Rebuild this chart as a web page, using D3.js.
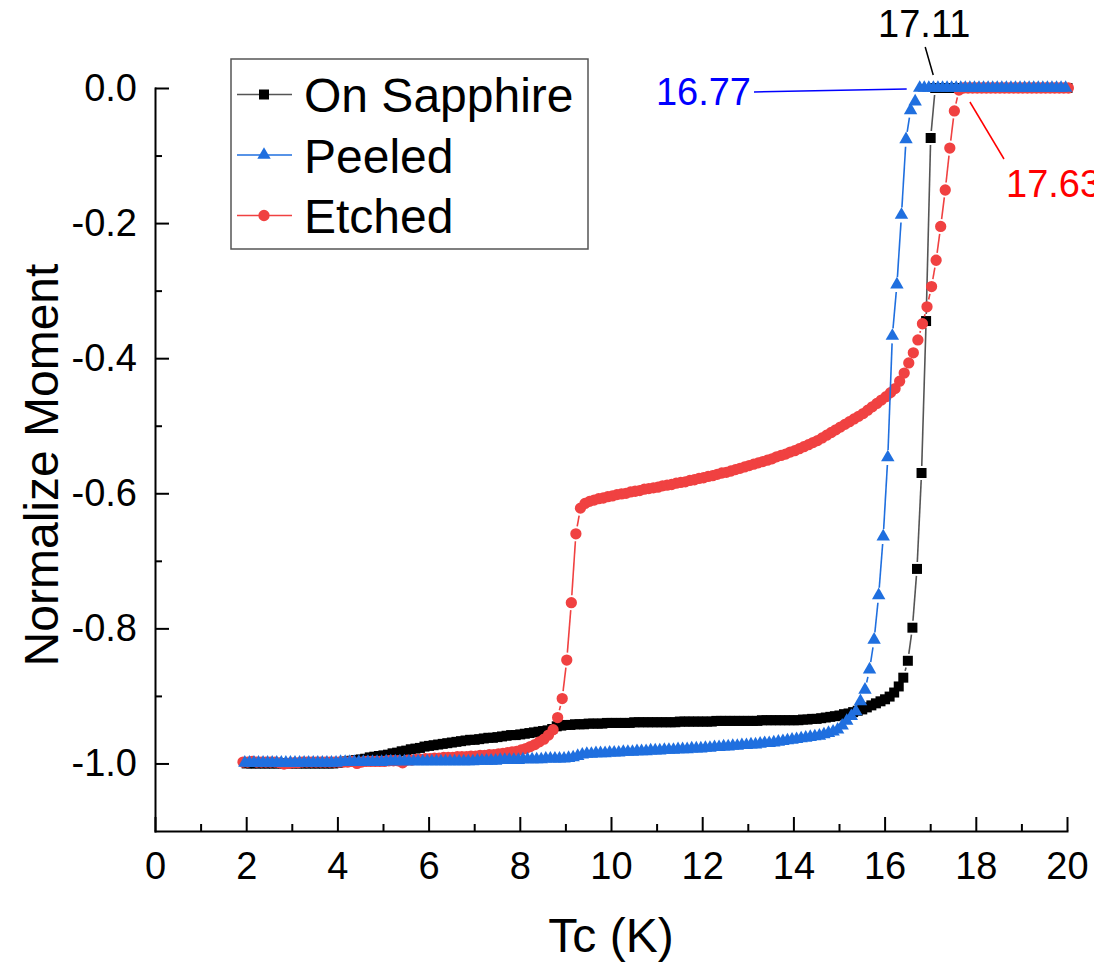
<!DOCTYPE html>
<html>
<head>
<meta charset="utf-8">
<script src="https://cdn.jsdelivr.net/npm/d3@7"></script>
<style>
  html, body { margin: 0; padding: 0; background: #fff; }
  svg { display: block; font-family: "Liberation Sans", Arial, Helvetica, sans-serif; }
</style>
</head>
<body>
<svg id="chart" width="1094" height="965"></svg>
<script>
// ---- Data: normalized magnetic moment during temperature sweeps (0.1 K per reading) ----
const seriesNames = ["On Sapphire", "Peeled", "Etched"];
const sweepStepK = 0.1;
const sweepStartK = [2.01, 1.97, 1.93];

// On Sapphire, readings from 2.01 K
const sapphireMoment = [
  -1.000,-1.000,-1.000,-1.000,-1.000,-1.000,-1.000,-1.000,-1.000,-1.000,
  -1.000,-1.000,-1.000,-1.000,-1.000,-1.000,-1.000,-1.000,-1.000,-1.000,
  -0.999,-0.998,-0.997,-0.996,-0.995,-0.994,-0.993,-0.991,-0.990,-0.989,
  -0.988,-0.987,-0.985,-0.984,-0.982,-0.981,-0.979,-0.978,-0.977,-0.975,
  -0.974,-0.973,-0.972,-0.971,-0.970,-0.969,-0.968,-0.967,-0.966,-0.965,
  -0.965,-0.964,-0.963,-0.962,-0.962,-0.961,-0.960,-0.959,-0.958,-0.958,
  -0.957,-0.956,-0.955,-0.954,-0.953,-0.952,-0.951,-0.949,-0.945,-0.944,
  -0.943,-0.943,-0.942,-0.942,-0.942,-0.941,-0.941,-0.941,-0.941,-0.940,
  -0.940,-0.940,-0.940,-0.940,-0.940,-0.939,-0.939,-0.939,-0.939,-0.939,
  -0.939,-0.939,-0.939,-0.939,-0.939,-0.938,-0.938,-0.938,-0.938,-0.938,
  -0.938,-0.938,-0.938,-0.937,-0.937,-0.937,-0.937,-0.937,-0.937,-0.937,
  -0.937,-0.937,-0.937,-0.936,-0.936,-0.936,-0.936,-0.936,-0.936,-0.936,
  -0.936,-0.936,-0.935,-0.935,-0.934,-0.934,-0.933,-0.932,-0.931,-0.930,
  -0.929,-0.927,-0.926,-0.924,-0.922,-0.920,-0.917,-0.914,-0.911,-0.908,
  -0.905,-0.901,-0.895,-0.886,-0.873,-0.848,-0.799,-0.712,-0.570,-0.345,
  -0.074, 0.000, 0.000, 0.000, 0.000, 0.000, 0.000, 0.000, 0.000, 0.000,
   0.000, 0.000, 0.000, 0.000, 0.000, 0.000, 0.000, 0.000, 0.000, 0.000,
   0.000, 0.000, 0.000, 0.000, 0.000, 0.000, 0.000, 0.000, 0.000, 0.000,
   0.000
];

// Peeled, readings from 1.97 K
const peeledMoment = [
  -0.999,-0.999,-0.999,-0.999,-0.999,-0.999,-0.999,-0.999,-0.999,-0.999,
  -0.999,-0.999,-0.999,-0.999,-0.999,-0.999,-0.999,-0.999,-0.999,-0.999,
  -0.999,-0.998,-0.998,-0.998,-0.998,-0.998,-0.998,-0.998,-0.998,-0.998,
  -0.998,-0.997,-0.997,-0.997,-0.997,-0.997,-0.997,-0.997,-0.997,-0.997,
  -0.997,-0.997,-0.997,-0.997,-0.997,-0.997,-0.997,-0.997,-0.997,-0.997,
  -0.997,-0.996,-0.996,-0.996,-0.996,-0.996,-0.995,-0.995,-0.995,-0.995,
  -0.995,-0.994,-0.994,-0.994,-0.994,-0.994,-0.993,-0.993,-0.993,-0.993,
  -0.993,-0.992,-0.991,-0.989,-0.987,-0.986,-0.986,-0.985,-0.985,-0.985,
  -0.984,-0.984,-0.984,-0.983,-0.983,-0.983,-0.982,-0.982,-0.982,-0.981,
  -0.981,-0.981,-0.980,-0.980,-0.980,-0.979,-0.979,-0.979,-0.978,-0.978,
  -0.978,-0.977,-0.977,-0.976,-0.976,-0.975,-0.975,-0.974,-0.974,-0.973,
  -0.973,-0.972,-0.972,-0.971,-0.970,-0.970,-0.969,-0.968,-0.967,-0.966,
  -0.965,-0.964,-0.963,-0.962,-0.961,-0.960,-0.959,-0.957,-0.955,-0.953,
  -0.950,-0.944,-0.937,-0.930,-0.923,-0.908,-0.891,-0.861,-0.817,-0.751,
  -0.664,-0.547,-0.367,-0.291,-0.188,-0.076,-0.033,-0.020, 0.000, 0.000,
   0.000, 0.000, 0.000, 0.000, 0.000, 0.000, 0.000, 0.000, 0.000, 0.000,
   0.000, 0.000, 0.000, 0.000, 0.000, 0.000, 0.000, 0.000, 0.000, 0.000,
   0.000, 0.000, 0.000, 0.000, 0.000, 0.000, 0.000, 0.000, 0.000, 0.000,
   0.000
];

// Etched, readings from 1.93 K
const etchedMoment = [
  -0.998,-0.998,-0.997,-0.998,-0.998,-0.998,-0.998,-0.998,-0.999,-1.001,
  -1.000,-0.999,-0.999,-0.998,-0.998,-0.998,-0.998,-0.998,-0.998,-0.998,
  -0.998,-0.998,-0.998,-0.998,-0.997,-1.000,-0.998,-0.997,-0.997,-0.997,
  -0.997,-0.997,-0.996,-0.996,-0.996,-0.999,-0.995,-0.995,-0.994,-0.994,
  -0.993,-0.993,-0.992,-0.992,-0.991,-0.991,-0.991,-0.990,-0.990,-0.990,
  -0.989,-0.989,-0.988,-0.988,-0.987,-0.987,-0.986,-0.985,-0.984,-0.983,
  -0.982,-0.980,-0.978,-0.975,-0.972,-0.968,-0.964,-0.958,-0.950,-0.932,
  -0.904,-0.847,-0.762,-0.660,-0.622,-0.615,-0.612,-0.610,-0.608,-0.607,
  -0.605,-0.604,-0.602,-0.601,-0.600,-0.598,-0.597,-0.596,-0.594,-0.593,
  -0.592,-0.591,-0.589,-0.588,-0.587,-0.585,-0.584,-0.583,-0.581,-0.580,
  -0.578,-0.577,-0.575,-0.574,-0.572,-0.570,-0.569,-0.567,-0.565,-0.563,
  -0.561,-0.559,-0.557,-0.555,-0.553,-0.551,-0.549,-0.546,-0.544,-0.542,
  -0.539,-0.537,-0.534,-0.531,-0.528,-0.525,-0.522,-0.518,-0.514,-0.510,
  -0.506,-0.502,-0.498,-0.494,-0.490,-0.486,-0.482,-0.477,-0.472,-0.467,
  -0.462,-0.457,-0.451,-0.445,-0.434,-0.422,-0.407,-0.392,-0.373,-0.349,
  -0.324,-0.294,-0.255,-0.205,-0.151,-0.089,-0.034,-0.003, 0.000, 0.000,
   0.000, 0.000, 0.000, 0.000, 0.000, 0.000, 0.000, 0.000, 0.000, 0.000,
   0.000, 0.000, 0.000, 0.000, 0.000, 0.000, 0.000, 0.000, 0.000, 0.000,
   0.000, 0.000
];

// Onset temperatures (first reading at zero moment) and their labels
const onsetK = [17.11, 16.77, 17.63];
const onsetLabels = ["17.11", "16.77", "17.63"];

// Axis ticks
const xMajorTicks = [0, 2, 4, 6, 8, 10, 12, 14, 16, 18, 20];
const xMinorTicks = [1, 3, 5, 7, 9, 11, 13, 15, 17, 19];
const yMajorTicks = [0.0, -0.2, -0.4, -0.6, -0.8, -1.0];
const yMinorTicks = [-0.1, -0.3, -0.5, -0.7, -0.9];
const xTitle = "Tc (K)";
const yTitle = "Normalize Moment";

// ---- Styling ----
const styles = [
  { marker: d3.symbolSquare,   size: 100, fill: "#000000", line: "#555555", gap: 7,   text: "#000000" },
  { marker: d3.symbolTriangle, size: 78,  fill: "#1f6fdf", line: "#1f6fdf", gap: 7.5, text: "#0000ff" },
  { marker: d3.symbolCircle,   size: 100, fill: "#f04141", line: "#f04141", gap: 7.5, text: "#ff0000" }
];
const moments = [sapphireMoment, peeledMoment, etchedMoment];
const series = seriesNames.map((name, s) => ({
  name,
  style: styles[s],
  points: moments[s].map((m, i) => ({ t: +(sweepStartK[s] + i * sweepStepK).toFixed(2), m }))
}));

const svg = d3.select("#chart");
const x = d3.scaleLinear().domain([0, 20]).range([155, 1067]);
const y = d3.scaleLinear().domain([-1.1, 0]).range([831, 88]);

const tickFont = 38;

// ---- Axes (ticks point inward) ----
function styleAxis(g) {
  g.selectAll("path.domain").attr("stroke", "#000").attr("stroke-width", 2).attr("stroke-linecap", "square");
  g.selectAll(".tick line").attr("stroke", "#000").attr("stroke-width", 2);
  g.selectAll(".tick text").attr("fill", "#000").style("font-size", tickFont + "px")
    .style("font-family", '"Liberation Sans", Arial, sans-serif');
}

svg.append("g").attr("transform", "translate(0,831)")
  .call(d3.axisBottom(x).tickValues(xMinorTicks).tickSize(-7).tickSizeOuter(0).tickFormat(""))
  .call(g => g.select("path.domain").remove())
  .call(styleAxis);
svg.append("g").attr("transform", "translate(0,831)")
  .call(d3.axisBottom(x).tickValues(xMajorTicks).tickSize(-14).tickSizeOuter(0).tickPadding(21).tickFormat(d => String(d)))
  .call(styleAxis);

svg.append("g").attr("transform", "translate(155,0)")
  .call(d3.axisLeft(y).tickValues(yMinorTicks).tickSize(-7).tickSizeOuter(0).tickFormat(""))
  .call(g => g.select("path.domain").remove())
  .call(styleAxis);
svg.append("g").attr("transform", "translate(155,0)")
  .call(d3.axisLeft(y).tickValues(yMajorTicks).tickSize(-14).tickSizeOuter(0).tickPadding(18).tickFormat(d => d.toFixed(1)))
  .call(styleAxis);

// Axis titles
svg.append("text").attr("x", 611).attr("y", 952).attr("text-anchor", "middle")
  .style("font-size", "48px").attr("fill", "#000").text(xTitle);
svg.append("text").attr("transform", "translate(58,465) rotate(-90)").attr("text-anchor", "middle")
  .style("font-size", "48px").attr("fill", "#000").text(yTitle);

// ---- Series: connecting segments stop short of each symbol ----
function gappedSegments(pts, gap) {
  const segs = [];
  for (let i = 1; i < pts.length; i++) {
    const x0 = x(pts[i - 1].t), y0 = y(pts[i - 1].m), x1 = x(pts[i].t), y1 = y(pts[i].m);
    const dx = x1 - x0, dy = y1 - y0, L = Math.hypot(dx, dy);
    if (L <= 2 * gap + 1) continue;
    const ux = dx / L, uy = dy / L;
    segs.push([x0 + ux * gap, y0 + uy * gap, x1 - ux * gap, y1 - uy * gap]);
  }
  return segs;
}

// Draw order: On Sapphire, Etched, Peeled (Peeled on top)
const drawOrder = [0, 2, 1];
const plot = svg.append("g");
drawOrder.forEach(s => {
  const sr = series[s];
  const g = plot.append("g");
  g.selectAll("line").data(gappedSegments(sr.points, sr.style.gap)).join("line")
    .attr("x1", d => d[0]).attr("y1", d => d[1]).attr("x2", d => d[2]).attr("y2", d => d[3])
    .attr("stroke", sr.style.line).attr("stroke-width", 1.6);
  const sym = d3.symbol().type(sr.style.marker).size(sr.style.size);
  g.selectAll("path").data(sr.points).join("path")
    .attr("transform", d => `translate(${x(d.t)},${y(d.m)})`)
    .attr("d", sym).attr("fill", sr.style.fill);
});

// ---- Onset annotations ----
const ann = svg.append("g").style("font-size", "38px");
// On Sapphire: label above, leader down to the onset point
ann.append("line").attr("x1", x(onsetK[0]) - 10).attr("y1", 47).attr("x2", x(onsetK[0]) - 2).attr("y2", y(0) - 13)
  .attr("stroke", styles[0].text).attr("stroke-width", 1.5);
ann.append("text").attr("x", x(onsetK[0]) - 11).attr("y", 37).attr("text-anchor", "middle")
  .attr("fill", styles[0].text).text(onsetLabels[0]);
// Peeled: label to the left, horizontal leader
ann.append("line").attr("x1", 754).attr("y1", 92).attr("x2", x(onsetK[1]) - 13).attr("y2", y(0) + 1)
  .attr("stroke", styles[1].text).attr("stroke-width", 1.5);
ann.append("text").attr("x", 751).attr("y", 105).attr("text-anchor", "end")
  .attr("fill", styles[1].text).text(onsetLabels[1]);
// Etched: label below right, diagonal leader
ann.append("line").attr("x1", x(onsetK[2]) + 11).attr("y1", y(0) + 14).attr("x2", 1004).attr("y2", 159)
  .attr("stroke", styles[2].text).attr("stroke-width", 1.5);
ann.append("text").attr("x", 1006).attr("y", 197).attr("text-anchor", "start")
  .attr("fill", styles[2].text).text(onsetLabels[2]);

// ---- Legend ----
const legend = svg.append("g");
legend.append("rect").attr("x", 231).attr("y", 59).attr("width", 357).attr("height", 190)
  .attr("fill", "#fff").attr("stroke", "#555").attr("stroke-width", 1.5);
series.forEach((sr, i) => {
  const cy = 94.5 + i * 60.5;
  legend.append("line").attr("x1", 237).attr("x2", 292).attr("y1", cy).attr("y2", cy)
    .attr("stroke", sr.style.line).attr("stroke-width", 1.6);
  legend.append("path").attr("transform", `translate(264,${cy})`)
    .attr("d", d3.symbol().type(sr.style.marker).size(sr.style.size)()).attr("fill", sr.style.fill);
  legend.append("text").attr("x", 304).attr("y", cy + 17.5).style("font-size", "48px")
    .attr("fill", "#000").text(sr.name);
});
</script>
</body>
</html>
